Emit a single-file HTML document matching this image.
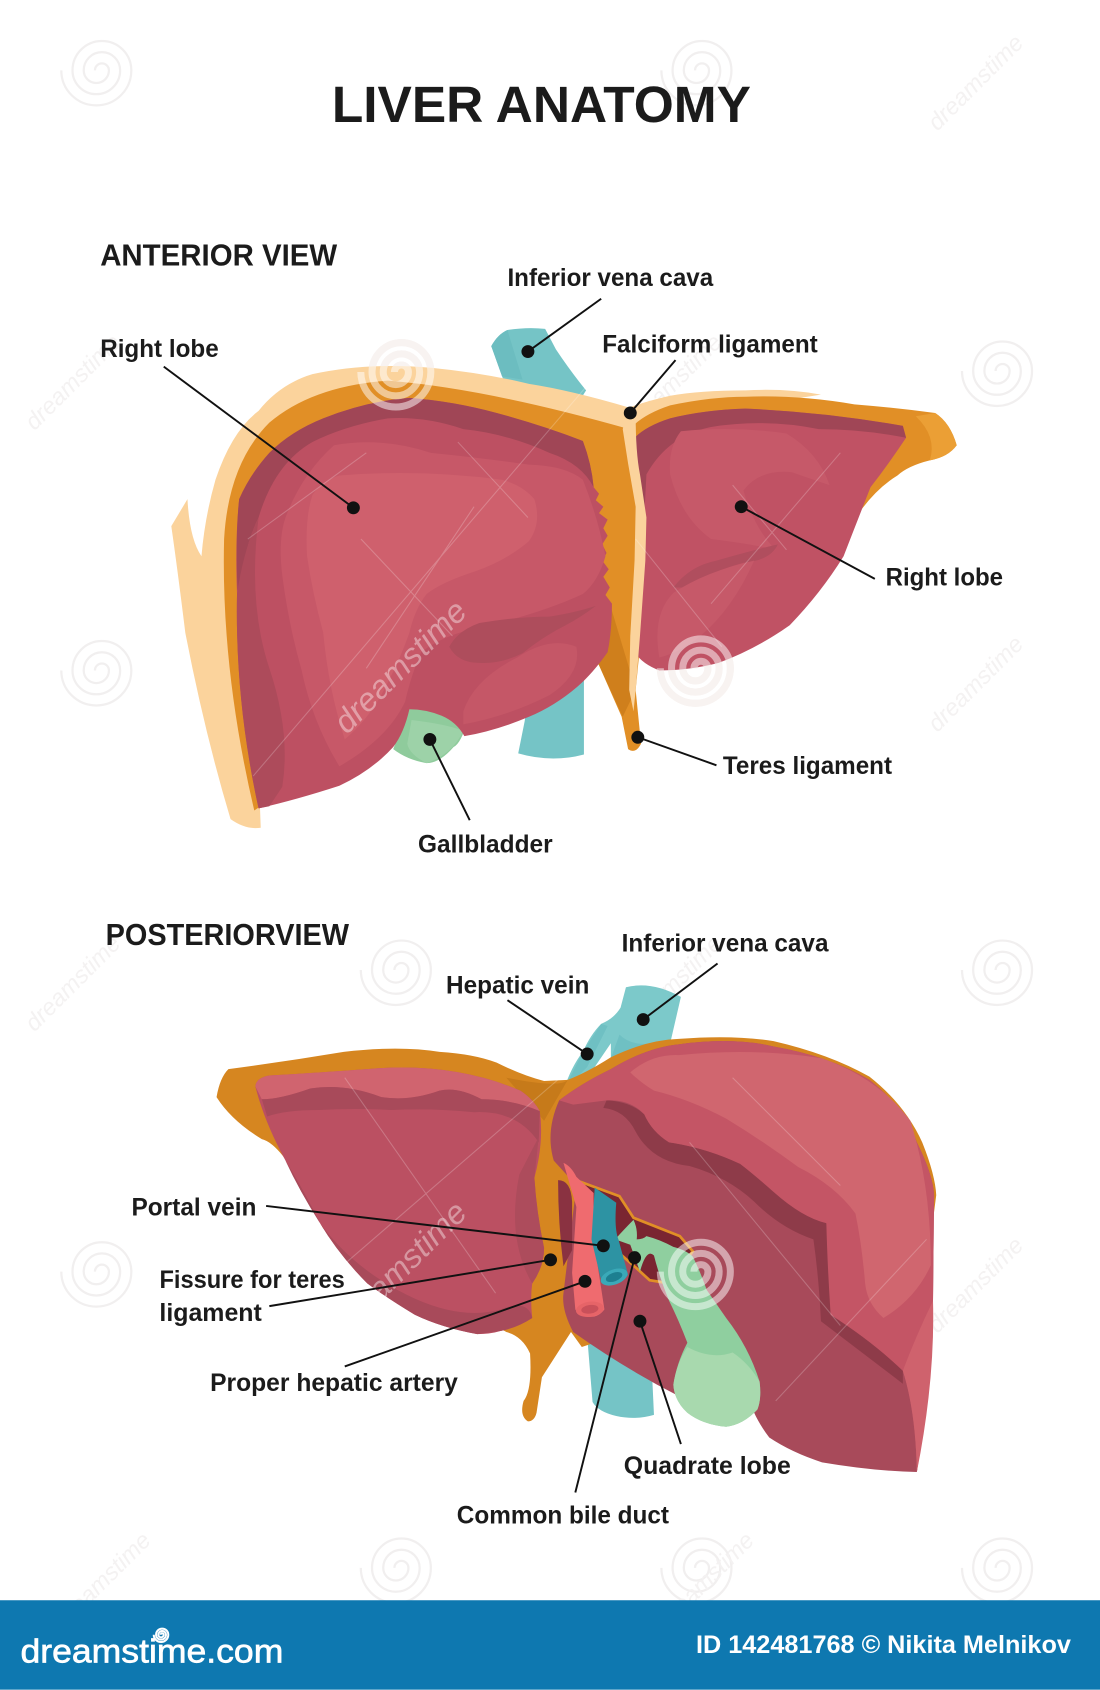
<!DOCTYPE html>
<html><head><meta charset="utf-8"><title>Liver Anatomy</title>
<style>
html,body{margin:0;padding:0;background:#fff}
svg{display:block;width:1100px;height:1690px}
text{font-family:"Liberation Sans",sans-serif;font-weight:700;fill:#1b1b1b}
.l{font-size:23px}
.h{font-size:28px}
.m{font-weight:400;font-style:italic;fill:#f4f2f2;font-size:22px}
</style></head><body>
<svg viewBox="0 0 1021 1568" xmlns="http://www.w3.org/2000/svg">
<defs>
<path id="sp" d="M-3,0A5,5 0 0 1 7,0A9,9 0 0 1 -11,0A13,13 0 0 1 15,0A17,17 0 0 1 -19,0A21,21 0 0 1 23,0A25,25 0 0 1 -27,0" fill="none"/>
</defs>
<rect width="1021" height="1568" fill="#fff"/>
<!-- faint watermarks -->
<g stroke="#f1efef" stroke-width="1.6" fill="none">
<use href="#sp" transform="translate(92,65) scale(1.3)"/><use href="#sp" transform="translate(649,65) scale(1.3)"/>
<use href="#sp" transform="translate(928,344) scale(1.3)"/><use href="#sp" transform="translate(92,622) scale(1.3)"/>
<use href="#sp" transform="translate(370,900) scale(1.3)"/><use href="#sp" transform="translate(928,900) scale(1.3)"/>
<use href="#sp" transform="translate(92,1180) scale(1.3)"/><use href="#sp" transform="translate(370,1455) scale(1.3)"/>
<use href="#sp" transform="translate(928,1455) scale(1.3)"/><use href="#sp" transform="translate(649,1455) scale(1.3)"/>
</g>
<g stroke="#f1e6e2" stroke-width="5" fill="none">
<use href="#sp" transform="translate(370,345) scale(1.3)"/>
<use href="#sp" transform="translate(648,620) scale(1.3)"/>
</g>
<text class="m" transform="translate(870,122) rotate(-45)">dreamstime</text>
<text class="m" transform="translate(870,680) rotate(-45)">dreamstime</text>
<text class="m" transform="translate(870,1238) rotate(-45)">dreamstime</text>
<text class="m" transform="translate(32,400) rotate(-45)">dreamstime</text>
<text class="m" transform="translate(32,958) rotate(-45)">dreamstime</text>
<text class="m" transform="translate(590,400) rotate(-45)">dreamstime</text>
<text class="m" transform="translate(590,958) rotate(-45)">dreamstime</text>
<text class="m" transform="translate(60,1512) rotate(-45)">dreamstime</text>
<text class="m" transform="translate(620,1512) rotate(-45)">dreamstime</text>

<!-- ANTERIOR -->
<path d="M456,321Q462,310 471,306Q490,303 506,305L516,324Q530,345 544,362L520,400L470,360Z" fill="#75c4c6"/>
<path d="M456,321Q462,310 471,306L485,352L466,349Z" fill="#6cbdc0"/>
<path d="M495,610L542,600L542,700Q512,708 481,699L487,669Z" fill="#75c4c6"/>
<path d="M380,655L434,668Q428,690 421,693Q408,708 396,708Q378,705 365,695Z" fill="#8fcb9c"/>
<path d="M382,668Q415,672 430,678Q420,700 396,708Q380,700 378,690Z" fill="#9dd2a8"/>
<!-- pale -->
<path d="M174,463L159,488Q165,530 172,587Q190,680 214,760Q228,770 242,768L241,740L300,500L640,385L762,366Q730,360 692,362Q650,362 622,367Q600,372 584,378Q530,362 491,356Q450,346 400,341Q340,336 290,347Q260,356 240,381Q215,400 200,445Q190,480 187,516Q176,500 174,463Z" fill="#fbd39c"/>
<!-- orange -->
<path d="M236,752Q205,620 208,500Q212,430 250,392Q290,358 360,353Q450,360 584,398L590,420L598,480L594,600L590,640L595,690Q590,700 583,695L577,665L555,615L400,640Z" fill="#e18f26"/>
<path d="M584,399Q595,385 622,376Q660,368 692,368Q740,366 793,375Q830,378 868,383Q882,392 888,413Q880,424 863,427Q843,432 833,441Q815,452 800,472L700,470L590,420Z" fill="#e18f26"/>
<path d="M868,383Q882,392 888,413Q880,424 863,427Q870,405 850,386Z" fill="#eb9f35"/>
<path d="M553,560L566,560L578,600L590,640L578,665L555,615Z" fill="#cf7f1c"/>
<!-- big lobe -->
<path d="M240,750Q218,650 220,551Q218,500 222,463Q232,440 250,420Q270,400 300,388Q340,372 380,369Q420,372 461,383Q505,395 541,409Q549,430 551,452L556,458L553,464L560,470L556,476L564,482L560,490L564,497L559,505L563,513L559,520L565,528L560,535L566,545L562,552L568,560Q568,585 564,605Q550,625 536,637Q515,655 491,665Q460,678 431,683Q424,670 410,664Q395,658 380,658Q375,680 365,693Q345,715 315,729Q275,742 240,750Z" fill="#bd5062"/>
<path d="M222,463Q232,440 250,420Q270,400 300,388Q340,372 380,369Q420,372 461,383Q505,395 541,409Q549,430 551,452Q540,430 510,420Q470,402 430,398Q395,386 360,388Q320,395 290,410Q255,430 240,480Q225,510 221,560Q218,500 222,463Z" fill="#a04656"/>
<path d="M240,750Q218,650 220,551Q226,510 240,480Q230,560 250,620Q270,680 262,730L250,748Z" fill="#ad4b5b"/>
<path d="M262,534Q258,500 265,480Q280,440 310,413Q355,405 400,420Q450,425 491,431Q525,432 541,445Q555,480 562,516Q555,540 541,551Q500,570 441,583Q410,590 391,605Q382,625 376,651Q360,685 315,711Q290,670 280,622Q268,580 262,534Z" fill="#c75868"/>
<path d="M285,516Q283,480 290,459Q300,445 315,441Q390,435 466,445Q485,450 496,463Q503,485 491,502Q470,520 441,530Q410,540 396,551Q385,565 380,587Q372,610 360,633Q345,665 320,686Q305,640 300,587Q290,550 285,516Z" fill="#cf606d"/>
<path d="M417,600Q425,585 445,578Q480,572 510,572Q535,568 553,562Q540,572 525,580Q505,590 485,606Q465,616 445,615Q425,615 417,600Z" fill="#ae4d5c"/>
<path d="M430,660Q440,630 480,610Q510,590 535,600Q540,625 510,645Q470,665 430,672Z" fill="#c55767"/>
<!-- right lobe anterior -->
<path d="M589,406Q600,395 622,388Q655,380 692,379Q765,382 838,395L841,406Q825,430 808,452Q795,485 783,516Q762,550 733,580Q702,602 667,615Q640,622 612,622Q596,616 589,605Q592,540 599,480Q594,440 589,406Z" fill="#c05264"/>
<path d="M589,406Q600,395 622,388Q655,380 692,379Q765,382 838,395L841,406Q800,398 760,398Q710,388 660,396Q620,404 600,440Q596,520 593,540Q590,470 589,406Z" fill="#a04656"/>
<path d="M632,400Q680,395 730,402Q760,420 770,450Q755,445 735,438Q705,435 690,455Q700,490 720,510Q700,505 660,500Q632,480 622,440Q620,415 632,400Z" fill="#c65969"/>
<path d="M625,545Q640,525 665,520Q700,510 722,505Q715,520 690,522Q660,530 640,545Z" fill="#b04e5e"/>
<path d="M612,610Q605,570 625,550Q655,530 700,520Q680,565 650,590Q632,605 612,610Z" fill="#c65969"/>
<!-- strip -->
<path d="M578,398Q582,382 590,384Q590,420 594,440L600,480L599,520L594,590L590,640L588,660L584,640L585,590L589,520L590,470L583,430Z" fill="#fbd39c"/>

<!-- POSTERIOR -->
<path d="M545,1240L605,1270L607,1313Q590,1318 572,1314Q555,1310 550,1301Z" fill="#75c4c6"/>
<path d="M581,916Q605,910 632,925L623,964L600,985L567,982L567,968L552,990L523,1012Q530,990 541,976Q548,960 558,950Q570,945 576,935Z" fill="#7cc9ca"/>
<path d="M523,1012L541,976L558,950L564,952L545,990Z" fill="#6fc0c3"/>
<path d="M567,982L575,960Q590,975 623,964L600,985Z" fill="#6fc0c3"/>
<path d="M201,1018Q204,1000 212,992Q265,985 319,976Q370,970 408,976Q440,978 461,986Q485,998 505,1003L527,1002Q545,995 567,981Q600,965 630,964Q680,960 718,966Q770,978 807,999Q840,1025 856,1060Q868,1090 869,1109L865,1140L540,1250L530,1236L503,1278L498,1311Q496,1319 490,1319Q482,1314 486,1300Q494,1290 492,1256Q485,1240 470,1236L300,1140L270,1083Q255,1060 243,1057Q215,1040 201,1018Z" fill="#d68620"/>
<path d="M470,1000Q520,1010 527,1002L505,1040Z" fill="#c67a1a"/>
<!-- left lobe posterior -->
<path d="M237,1008Q238,1000 250,998Q300,995 341,992Q420,985 483,1012Q495,1020 501,1031Q505,1060 496,1093Q498,1125 505,1158Q505,1175 494,1191Q492,1205 494,1223Q480,1232 465,1235Q455,1238 443,1238Q410,1232 385,1220Q360,1205 341,1191Q315,1165 297,1135Q278,1105 265,1077Q245,1040 237,1008Z" fill="#bb5062"/>
<path d="M265,1077Q285,1110 297,1135Q330,1180 385,1205Q430,1225 465,1215Q490,1205 494,1223Q480,1232 465,1235L443,1238Q410,1232 385,1220Q360,1205 341,1191Q315,1165 297,1135Q278,1105 265,1077Z" fill="#a84a5a"/>
<path d="M237,1008Q238,1000 250,998Q300,995 341,992Q420,985 483,1012Q495,1020 501,1031Q475,1020 447,1020Q425,1008 408,1012Q380,1022 354,1018Q320,1005 288,1010Q260,1020 243,1020Z" fill="#d0646f"/>
<path d="M243,1020Q260,1020 288,1010Q320,1005 354,1018Q380,1022 408,1012Q425,1008 447,1020Q475,1020 501,1031L500,1060Q480,1030 440,1032Q400,1028 363,1030Q330,1028 296,1030Q265,1030 248,1036Z" fill="#a84a5a"/>
<path d="M496,1093Q498,1125 505,1158Q505,1175 494,1191Q470,1150 482,1090L500,1055Z" fill="#ad4c5c"/>
<!-- right lobe posterior -->
<path d="M519,1021Q540,1005 567,992Q600,972 630,969Q680,962 718,971Q770,980 807,1002Q840,1028 851,1060Q866,1090 867,1109L866,1207Q864,1280 851,1366Q810,1365 763,1357Q735,1348 714,1334Q705,1322 700,1311L629,1295Q580,1270 532,1236Q521,1215 523,1200L535,1100L514,1077Q506,1050 519,1021Z" fill="#a84a5a"/>
<!-- deep shadow wedge -->
<path d="M563,1021Q585,1022 598,1034Q605,1050 621,1060Q655,1065 687,1080Q700,1090 718,1106Q745,1130 767,1135Q770,1175 771,1220Q810,1245 838,1272L838,1284Q800,1255 762,1226Q760,1185 755,1150Q725,1140 700,1115Q675,1092 640,1082Q605,1078 590,1050Q580,1030 560,1028Z" fill="#8e3b49"/>
<path d="M519,1021Q540,1005 567,992Q600,972 630,969Q680,962 718,971Q770,980 807,1002Q840,1028 851,1060Q866,1090 867,1109L866,1207Q864,1280 851,1366Q850,1310 838,1272Q810,1245 771,1220Q768,1175 767,1135Q745,1130 718,1106Q700,1090 687,1080Q655,1065 621,1060Q605,1050 598,1034Q585,1020 563,1021L532,1025Z" fill="#c45565"/>
<path d="M585,995Q605,978 630,979Q700,972 763,982Q815,1000 845,1040Q864,1100 864,1174Q850,1205 820,1223Q805,1210 803,1191Q800,1155 794,1126Q775,1100 741,1083Q710,1060 674,1038Q640,1020 607,1012Q595,1005 585,995Z" fill="#d0666f"/>
<path d="M838,1272Q850,1310 851,1366Q868,1280 866,1207Q850,1240 838,1272Z" fill="#cf626d"/>
<!-- porta -->
<path d="M537,1096L575,1110L588,1130L631,1147L643,1161L622,1191L603,1188L591,1177L560,1150Z" fill="#7a2531" stroke="#e18f26" stroke-width="2.5"/>
<path d="M518,1095Q530,1095 531,1115L531,1160L523,1175Q518,1135 518,1095Z" fill="#8a3241"/>
<!-- gallbladder -->
<path d="M571,1150Q580,1140 588,1132Q592,1140 591,1150Q597,1150 600,1147Q612,1150 625,1157Q637,1160 643,1166Q650,1180 656,1197Q665,1210 674,1223Q695,1250 705,1282Q707,1298 703,1308Q690,1322 674,1324Q652,1322 638,1311Q626,1300 625,1285Q628,1265 638,1246Q630,1225 621,1207Q612,1185 607,1165Q600,1158 594,1180L585,1155Z" fill="#8fcf9f"/>
<path d="M625,1285Q628,1265 638,1250Q660,1262 680,1255Q695,1265 705,1282Q707,1298 703,1308Q690,1322 674,1324Q652,1322 638,1311Q626,1300 625,1285Z" fill="#a8d9ae"/>
<!-- artery and vein -->
<path d="M523,1079Q530,1082 535,1092L551,1107L551,1150L561,1215Q556,1222 548,1222Q538,1222 534,1215L531,1181L535,1120Z" fill="#ef6b6f"/>
<ellipse cx="547.500" cy="1215" rx="13" ry="7" fill="#e66468" transform="rotate(-8 547 1215)"/>
<ellipse cx="547.500" cy="1215" rx="8" ry="4" fill="#c9505a" transform="rotate(-8 547 1215)"/>
<path d="M552,1102L572,1116Q570,1140 574,1150L583,1183Q575,1192 566,1192Q558,1190 557,1184L549,1150Z" fill="#2d93a3"/>
<ellipse cx="570" cy="1185" rx="13" ry="7" fill="#3aa9b8" transform="rotate(-20 570 1185)"/>
<ellipse cx="570" cy="1185" rx="8" ry="4" fill="#1d7f90" transform="rotate(-20 570 1185)"/>

<!-- white lines -->
<g stroke="#fff" stroke-opacity=".22" stroke-width="1" fill="none">
<path d="M235,720L560,340M230,500L340,420M340,620L440,470M680,450L730,510M660,560L780,420M590,500L670,600M425,410L490,480M335,500L420,590"/>
<path d="M300,1190L520,1000M320,1000L460,1200M640,1060L780,1230M720,1300L860,1150M680,1000L780,1100"/>
</g>
<!-- strong spirals -->
<g stroke="#fff" stroke-opacity=".5" stroke-width="5" fill="none">
<use href="#sp" transform="translate(370,345) scale(1.3)"/>
<use href="#sp" transform="translate(648,620) scale(1.3)"/>
<use href="#sp" transform="translate(648,1180) scale(1.3)"/>
</g>
<text transform="translate(322,682) rotate(-45)" font-size="30" style="fill:#fff;fill-opacity:.4;font-weight:400;font-style:italic" textLength="160" lengthAdjust="spacingAndGlyphs">dreamstime</text>
<text transform="translate(322,1240) rotate(-45)" font-size="30" style="fill:#fff;fill-opacity:.4;font-weight:400;font-style:italic" textLength="160" lengthAdjust="spacingAndGlyphs">dreamstime</text>

<!-- connectors -->
<g stroke="#111" stroke-width="1.8" fill="none">
<path d="M558,277L490,326M627,334L585,383M152,340L328,471M812,537L688,470M665,710L592,684M436,761L399,686"/>
<path d="M666,894L597,946M471,928L545,978M247,1119L560,1156M250,1212L511,1169M320,1268L543,1189M534,1385L589,1167M632,1340L594,1226"/>
</g>
<g fill="#111">
<circle cx="490" cy="326" r="6"/><circle cx="585" cy="383" r="6"/><circle cx="328" cy="471" r="6"/><circle cx="688" cy="470" r="6"/><circle cx="592" cy="684" r="6"/><circle cx="399" cy="686" r="6"/>
<circle cx="597" cy="946" r="6"/><circle cx="545" cy="978" r="6"/><circle cx="560" cy="1156" r="6"/><circle cx="511" cy="1169" r="6"/><circle cx="543" cy="1189" r="6"/><circle cx="589" cy="1167" r="6"/><circle cx="594" cy="1226" r="6"/>
</g>

<!-- text -->
<text x="308" y="113" font-size="47" textLength="389" lengthAdjust="spacingAndGlyphs">LIVER ANATOMY</text>
<text class="h" x="93" y="246" textLength="220" lengthAdjust="spacingAndGlyphs">ANTERIOR VIEW</text>
<text class="h" x="98" y="877" textLength="226" lengthAdjust="spacingAndGlyphs">POSTERIORVIEW</text>
<text class="l" x="471" y="265" textLength="191" lengthAdjust="spacingAndGlyphs">Inferior vena cava</text>
<text class="l" x="559" y="327" textLength="200" lengthAdjust="spacingAndGlyphs">Falciform ligament</text>
<text class="l" x="93" y="331" textLength="110" lengthAdjust="spacingAndGlyphs">Right lobe</text>
<text class="l" x="822" y="543" textLength="109" lengthAdjust="spacingAndGlyphs">Right lobe</text>
<text class="l" x="671" y="718" textLength="157" lengthAdjust="spacingAndGlyphs">Teres ligament</text>
<text class="l" x="388" y="791" textLength="125" lengthAdjust="spacingAndGlyphs">Gallbladder</text>
<text class="l" x="577" y="883" textLength="192" lengthAdjust="spacingAndGlyphs">Inferior vena cava</text>
<text class="l" x="414" y="922" textLength="133" lengthAdjust="spacingAndGlyphs">Hepatic vein</text>
<text class="l" x="122" y="1128" textLength="116" lengthAdjust="spacingAndGlyphs">Portal vein</text>
<text class="l" x="148" y="1195" textLength="172" lengthAdjust="spacingAndGlyphs">Fissure for teres</text>
<text class="l" x="148" y="1226" textLength="95" lengthAdjust="spacingAndGlyphs">ligament</text>
<text class="l" x="195" y="1291" textLength="230" lengthAdjust="spacingAndGlyphs">Proper hepatic artery</text>
<text class="l" x="579" y="1368" textLength="155" lengthAdjust="spacingAndGlyphs">Quadrate lobe</text>
<text class="l" x="424" y="1414" textLength="197" lengthAdjust="spacingAndGlyphs">Common bile duct</text>

<!-- footer -->
<rect x="0" y="1485" width="1021" height="83" fill="#0e78b0"/>
<text x="19" y="1543" font-size="31" textLength="244" lengthAdjust="spacingAndGlyphs" style="fill:#fff;font-weight:400;stroke:#fff;stroke-width:.6">dreamstime.com</text>
<use href="#sp" transform="translate(150,1517) scale(.27)" stroke="#fff" stroke-width="7"/>
<text x="646" y="1534" font-size="23" textLength="348" lengthAdjust="spacingAndGlyphs" style="fill:#fff">ID 142481768 © Nikita Melnikov</text>
</svg>
</body></html>
